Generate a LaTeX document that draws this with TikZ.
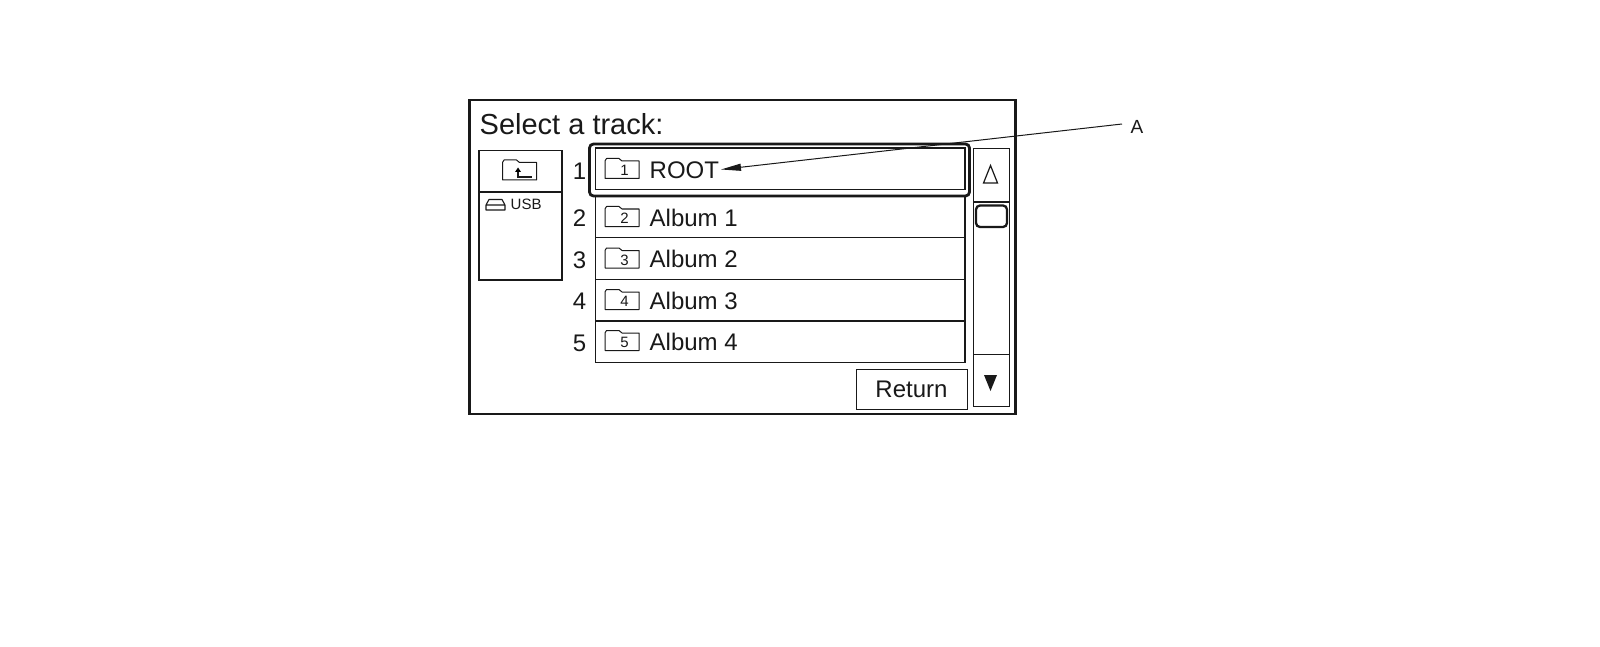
\documentclass[tikz,border=0pt]{standalone}
\usepackage{fontspec}
\setmainfont{Liberation Sans}
\usetikzlibrary{arrows.meta}
\newcommand{\fs}[1]{\fontsize{#1}{#1}\selectfont}
\tikzset{
  ink/.style={draw=black!90,line width=1.4pt},
  heavy/.style={draw=black!90,line width=2.8pt},
  txt/.style={inner sep=0pt,text=black!90,anchor=base west,font=\fs{24}},
  numtxt/.style={inner sep=0pt,text=black!90,anchor=base,font=\fs{24}},
  small/.style={inner sep=0pt,text=black!90,font=\fs{15}},
  folder/.pic={
    \draw[draw=black!90,line width=1pt,line join=round] (0,20) -- (0,2.5) -- (1.5,0) -- (14,0) -- (17,2.5) -- (34,2.5) -- (34,20) -- cycle;
  }
}
\begin{document}
\begin{tikzpicture}[x=1pt,y=-1pt]
\useasboundingbox[fill=white] (0,0) rectangle (1600,647);
% frame
\node[heavy,draw,inner sep=0pt,minimum width=546pt,minimum height=314pt,anchor=center] (frame) at (742.5,257) {};
\node[inner sep=0pt,anchor=base west,text=black!90,font=\fs{29}] (title) at (479.5,134.5) {Select a track:};
% left panel
\draw[ink] (479,150.5) rectangle (562,280);
\draw[ink] (479,192) -- (562,192);
\pic at (502.5,160) {folder};
\draw[draw=black!90,line width=1.2pt] (518,170) -- (518,177) -- (532,177);
\draw[fill=black,draw=none] (518,167.5) -- (521,172) -- (515,172) -- cycle;
\draw[draw=black!90,line width=1.1pt,line join=round] (486,210) -- (486,205) -- (489,199.5) -- (502,199.5) -- (505,205) -- (505,210) -- cycle (486,205) -- (505,205);
\node[small,anchor=base west] (usb) at (510.5,209.5) {USB};
% rows
\draw[ink] (595.5,148) rectangle (965,189.5);
\draw[ink] (595.5,196) rectangle (965,362.5);
\draw[ink] (595.5,237.5) -- (965,237.5);
\draw[ink] (595.5,279.5) -- (965,279.5);
\draw[ink] (595.5,321) -- (965,321);
\draw[heavy,rounded corners=4pt] (589.5,144) rectangle (969.5,196);
% numbers
\node[numtxt] (n1) at (579.5,179) {1};
\node[numtxt] (n2) at (579.5,226.5) {2};
\node[numtxt] (n3) at (579.5,268) {3};
\node[numtxt] (n4) at (579.5,309.5) {4};
\node[numtxt] (n5) at (579.5,351) {5};
% folders
\foreach \yy/\d in {158.5/1,206.5/2,248/3,289.5/4,330.5/5}{
  \pic at (605,\yy) {folder};
  \node[small] at (624.5,\yy+12) {\d};
}
\node[txt] (r1) at (649.5,178.5) {ROOT};
\node[txt] (r2) at (649.5,226) {Album 1};
\node[txt] (r3) at (649.5,267.5) {Album 2};
\node[txt] (r4) at (649.5,309) {Album 3};
\node[txt] (r5) at (649.5,350) {Album 4};
% scrollbar
\draw[ink] (973.5,148.5) rectangle (1009.5,406.5);
\draw[ink] (973.5,202) -- (1009.5,202);
\draw[ink] (973.5,354.5) -- (1009.5,354.5);
\draw[draw=black!90,line width=2.3pt,rounded corners=4pt,fill=white] (976,205.5) rectangle (1007,227);
\draw[draw=black!90,line width=1.2pt,line join=miter] (990.5,165.5) -- (997.5,183) -- (983.5,183) -- cycle;
\fill[black!90] (984,375) -- (997,375) -- (990.5,391) -- cycle;
% return
\node[ink,draw,inner sep=0pt,minimum width=110.5pt,minimum height=40pt,anchor=north west,text=black!90,font=\fs{24}] (ret) at (856,368.5) {\hspace*{-1pt}Return};
% callout
\node[inner sep=0pt,text=black!90,font=\fs{19}] (A) at (1137,127) {A};
\coordinate (Aend) at (1122,124);
\coordinate (tip) at (721,169.5);
\draw[draw=black!90,line width=1pt,-{Stealth[length=20pt,width=7pt,inset=0pt]}] (Aend) -- (tip);
\end{tikzpicture}
\end{document}
